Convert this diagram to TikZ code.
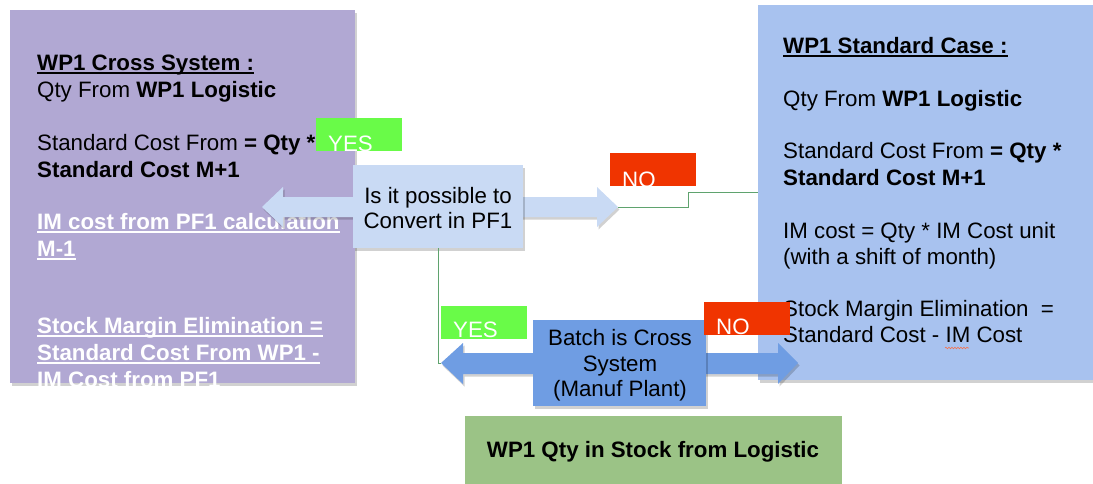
\documentclass[tikz,border=0pt]{standalone}
\usepackage{fontspec}
\setmainfont{Liberation Sans}
\usetikzlibrary{shadows,decorations.pathmorphing}
\definecolor{purp}{HTML}{B1A8D3}
\definecolor{stdblue}{HTML}{A8C2EF}
\definecolor{qblue}{HTML}{C9DAF4}
\definecolor{bblue}{HTML}{6F9DE3}
\definecolor{yesg}{HTML}{69FB48}
\definecolor{nored}{HTML}{F03400}
\definecolor{boxg}{HTML}{9BC386}
\definecolor{lineg}{HTML}{5FA36E}
\begin{document}
\begin{tikzpicture}[x=1pt,y=-1pt,font=\fontsize{22.3}{27}\selectfont,
  txt/.style={anchor=base west,inner sep=0pt},
  ctxt/.style={anchor=base,inner sep=0pt},
  shad/.style={drop shadow={shadow xshift=1.5pt,shadow yshift=-2.5pt,opacity=0.18,fill=black}},
  panel/.style={anchor=north west,inner sep=0pt,draw=none},
  lab/.style={anchor=north west,inner sep=0pt,draw=none,minimum width=86pt,minimum height=33pt},
  ul/.style={line width=1.3pt},
  gline/.style={draw=lineg,line width=0.8pt}]
\useasboundingbox (0,0) rectangle (1093,483);

% left panel
\node[panel,shad,fill=purp,minimum width=345pt,minimum height=373pt] (cross) at (10,10) {};
\node[txt] (c1) at (37,70) {\textbf{WP1 Cross System :}};
\draw[ul] ([yshift=-3pt]c1.base west) -- ([yshift=-3pt]c1.base east);
\node[txt] (c2) at (37,97) {Qty From \textbf{WP1 Logistic}};
\node[txt] (c3) at (37,150) {Standard Cost From \textbf{= Qty *}};
\node[txt] (c4) at (37,177) {\textbf{Standard Cost M+1}};
\begin{scope}[white]
\node[txt,text=white] (c5) at (37,229) {\textbf{IM cost from PF1 calculation}};
\draw[ul] ([yshift=-3pt]c5.base west) -- ([yshift=-3pt]c5.base east);
\node[txt,text=white] (c6) at (37,256) {\textbf{M-1}};
\draw[ul] ([yshift=-3pt]c6.base west) -- ([yshift=-3pt]c6.base east);
\node[txt,text=white] (c7) at (37,333) {\textbf{Stock Margin Elimination =}};
\draw[ul] ([yshift=-3pt]c7.base west) -- ([yshift=-3pt]c7.base east);
\node[txt,text=white] (c8) at (37,360) {\textbf{Standard Cost From WP1 -}};
\draw[ul] ([yshift=-3pt]c8.base west) -- ([yshift=-3pt]c8.base east);
\node[txt,text=white] (c9) at (37,387) {\textbf{IM Cost from PF1}};
\end{scope}

% right panel
\node[panel,shad,fill=stdblue,minimum width=345pt,minimum height=375pt] (std) at (758,5) {};
\node[txt] (s1) at (783,53) {\textbf{WP1 Standard Case :}};
\draw[ul] ([yshift=-3pt]s1.base west) -- ([yshift=-3pt]s1.base east);
\node[txt] (s2) at (783,106) {Qty From \textbf{WP1 Logistic}};
\node[txt] (s3) at (783,158) {Standard Cost From \textbf{= Qty *}};
\node[txt] (s4) at (783,185) {\textbf{Standard Cost M+1}};
\node[txt] (s5) at (783,238) {IM cost = Qty * IM Cost unit};
\node[txt] (s6) at (783,264) {(with a shift of month)};
\node[txt] (s7) at (783,316) {Stock Margin Elimination\ \ =};
\node[txt] (s8) at (783,342) {Standard Cost - IM Cost};
\draw[nored!70,line width=0.6pt,decorate,decoration={snake,amplitude=0.8pt,segment length=3pt}] (945,348) -- (969,348);

% question arrow
\fill[qblue,shad] (262,207) -- (283,187) -- (283,197) -- (597,197) -- (597,187) -- (618,207)
  -- (597,227) -- (597,217) -- (283,217) -- (283,227) -- cycle;
\coordinate (qtip) at (618,207);
\node[panel,shad,fill=qblue,minimum width=170pt,minimum height=83pt] (q) at (353,165) {};
\node[ctxt] (q1) at (438,203) {Is it possible to};
\node[ctxt] (q2) at (438,228) {Convert in PF1};

% batch arrow
\coordinate (btip) at (441,363);
\fill[bblue,shad] (btip) -- (463,343) -- (463,353) -- (778,353) -- (778,343) -- (798,363)
  -- (778,384) -- (778,374) -- (463,374) -- (463,384) -- cycle;
\node[panel,shad,fill=bblue,minimum width=173pt,minimum height=86pt] (b) at (533,320) {};
\node[ctxt] (b1) at (620,345) {Batch is Cross};
\node[ctxt] (b2) at (620,371) {System};
\node[ctxt] (b3) at (620,396) {(Manuf Plant)};

% connectors
\draw[gline] (qtip) -- (688,207) |- (std.west);
\draw[gline] (q.south) |- (btip);

% labels
\node[lab,fill=yesg] (yes1) at (316,118) {};
\node[txt,text=white] (yes1t) at (328,151) {YES};
\node[lab,fill=nored] (no1) at (610,153) {};
\node[txt,text=white] (no1t) at (622,187) {NO};
\node[lab,fill=yesg] (yes2) at (441,306) {};
\node[txt,text=white] (yes2t) at (453,337) {YES};
\node[lab,fill=nored] (no2) at (704,302) {};
\node[txt,text=white] (no2t) at (716,334) {NO};

% bottom box
\node[panel,fill=boxg,minimum width=377pt,minimum height=75pt] (stock) at (465,416) {};
\node[ctxt] (st) at (653,457) {\textbf{WP1 Qty in Stock from Logistic}};
\end{tikzpicture}
\end{document}
